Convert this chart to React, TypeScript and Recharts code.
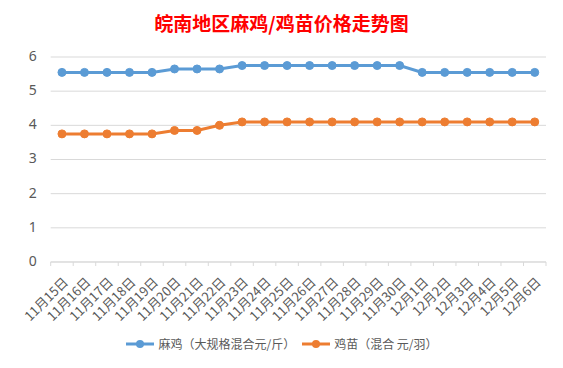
import React from "react";
import { LineChart, Line, XAxis, YAxis, CartesianGrid } from "recharts";

const dates = [
  "11月15日", "11月16日", "11月17日", "11月18日", "11月19日", "11月20日",
  "11月21日", "11月22日", "11月23日", "11月24日", "11月25日", "11月26日",
  "11月27日", "11月28日", "11月29日", "11月30日", "12月1日", "12月2日",
  "12月3日", "12月4日", "12月5日", "12月6日",
];
// 麻鸡（大规格混合 元/斤）
const majiPrices = [
  5.55, 5.55, 5.55, 5.55, 5.55, 5.65, 5.65, 5.65, 5.75, 5.75, 5.75,
  5.75, 5.75, 5.75, 5.75, 5.75, 5.55, 5.55, 5.55, 5.55, 5.55, 5.55,
];
// 鸡苗（混合 元/羽）
const jimiaoPrices = [
  3.75, 3.75, 3.75, 3.75, 3.75, 3.85, 3.85, 4.0, 4.1, 4.1, 4.1,
  4.1, 4.1, 4.1, 4.1, 4.1, 4.1, 4.1, 4.1, 4.1, 4.1, 4.1,
];
const yTicks = [0, 1, 2, 3, 4, 5, 6];

const seriesNames = ["麻鸡（大规格混合元/斤）", "鸡苗（混合 元/羽）"];
const BLUE = "#5B9BD5";
const ORANGE = "#ED7D31";
const GRID = "#d9d9d9";
const TEXT = "#595959";

const W = 563;
const H = 368;
const xAxisHeight = 30;
const margin = { top: 57, right: 17, bottom: 106 - xAxisHeight, left: 10.7 };
const yAxisWidth = 40;
const plotWidth = W - margin.left - margin.right - yAxisWidth;
const halfBand = plotWidth / dates.length / 2;

const data = dates.map((d, i) => ({
  date: d,
  maji: majiPrices[i],
  jimiao: jimiaoPrices[i],
}));

const DateTick = (props: any) => {
  const { x, y, payload, index } = props;
  return (
    <g>
      <line x1={x - halfBand} y1={y} x2={x - halfBand} y2={y + 4} stroke={GRID} />
      {index === dates.length - 1 && (
        <line x1={x + halfBand} y1={y} x2={x + halfBand} y2={y + 4} stroke={GRID} />
      )}
      <text
        transform={`translate(${x + 7},${y + 21}) rotate(-45)`}
        textAnchor="end"
        fontSize={13}
        fill={TEXT}
        fontFamily="'Noto Sans CJK SC', sans-serif"
      >
        {payload.value}
      </text>
    </g>
  );
};

const LegendIcon = ({ color }: { color: string }) => (
  <svg width={30} height={12} style={{ marginRight: 3 }}>
    <line x1={1} y1={6} x2={29} y2={6} stroke={color} strokeWidth={3} />
    <circle cx={15} cy={6} r={4} fill={color} />
  </svg>
);

export default function App() {
  const colors = [BLUE, ORANGE];
  return (
    <div
      style={{
        position: "relative",
        width: W,
        height: H,
        margin: -8,
        background: "#fff",
        overflow: "hidden",
        fontFamily: "'Noto Sans CJK SC', sans-serif",
      }}
    >
      {/* spreadsheet grid peeking around the chart box */}
      <svg width={W} height={H} style={{ position: "absolute", left: 0, top: 0 }}>
        {[53, 125, 197, 269, 341, 413, 485, 557].map((gx) => (
          <g key={gx}>
            <line x1={gx} y1={0} x2={gx} y2={3} stroke={GRID} />
            <line x1={gx} y1={365} x2={gx} y2={H} stroke={GRID} />
          </g>
        ))}
        {[14, 33, 52, 72, 91, 110, 129, 149, 168, 187, 206, 226, 245, 264, 283, 303, 322, 341, 360].map((gy) => (
          <g key={gy}>
            <line x1={0} y1={gy} x2={2} y2={gy} stroke={GRID} />
            <line x1={561} y1={gy} x2={W} y2={gy} stroke={GRID} />
          </g>
        ))}
      </svg>
      <div
        style={{
          position: "absolute",
          left: 2,
          top: 3,
          width: 558,
          height: 361,
          border: `1px solid ${GRID}`,
          background: "#fff",
        }}
      />
      <div
        style={{
          position: "absolute",
          top: 10,
          left: 0,
          width: W,
          textAlign: "center",
          color: "#ff0000",
          fontSize: 19,
          fontWeight: "bold",
          lineHeight: "26px",
        }}
      >
        皖南地区麻鸡/鸡苗价格走势图
      </div>
      <div style={{ position: "absolute", left: 0, top: 0 }}>
        <LineChart width={W} height={H} data={data} margin={margin}>
          <CartesianGrid vertical={false} stroke={GRID} strokeWidth={1} />
          <XAxis
            dataKey="date"
            interval={0}
            padding={{ left: halfBand, right: halfBand }}
            tickLine={false}
            tickSize={0}
            tickMargin={0}
            axisLine={{ stroke: GRID }}
            tick={<DateTick />}
            height={xAxisHeight}
          />
          <YAxis
            domain={[0, 6]}
            ticks={yTicks}
            interval={0}
            width={yAxisWidth}
            axisLine={false}
            tickLine={false}
            tickMargin={8}
            tick={{ fontSize: 14, fill: TEXT, fontFamily: "'Noto Sans', sans-serif", dy: -1 }}
          />
          <Line
            type="linear"
            dataKey="maji"
            stroke={BLUE}
            strokeWidth={3}
            dot={{ r: 4, fill: BLUE, stroke: BLUE, strokeWidth: 1 }}
            isAnimationActive={false}
          />
          <Line
            type="linear"
            dataKey="jimiao"
            stroke={ORANGE}
            strokeWidth={3}
            dot={{ r: 4, fill: ORANGE, stroke: ORANGE, strokeWidth: 1 }}
            isAnimationActive={false}
          />
        </LineChart>
      </div>
      <div
        style={{
          position: "absolute",
          top: 335,
          left: 0,
          width: W,
          display: "flex",
          justifyContent: "center",
          alignItems: "center",
          fontSize: 12,
          color: TEXT,
        }}
      >
        {seriesNames.map((name, i) => (
          <div key={name} style={{ display: "flex", alignItems: "center", marginRight: i === 0 ? 6 : 0 }}>
            <LegendIcon color={colors[i]} />
            <span>{name}</span>
          </div>
        ))}
      </div>
    </div>
  );
}
